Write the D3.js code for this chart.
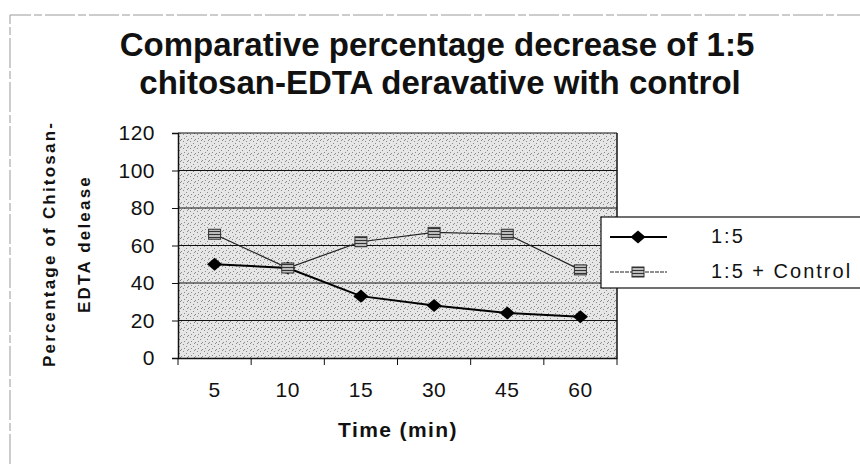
<!DOCTYPE html>
<html>
<head>
<meta charset="utf-8">
<script src="https://cdn.jsdelivr.net/npm/d3@7"></script>
<style>
  body { margin: 0; background: #fff; }
  svg { display: block; font-family: Arial, "Liberation Sans", sans-serif; }
</style>
</head>
<body>
<div class="chart"></div>
<script>
// data
var times = ["5", "10", "15", "30", "45", "60"];
var ratioValues = [50, 48, 33, 28, 24, 22];
var controlValues = [66, 48, 62, 67, 66, 47];
var seriesNames = ["1:5", "1:5 + Control"];
var yTicks = [0, 20, 40, 60, 80, 100, 120];

var W = 860, H = 464;
var plot = {left: 178, right: 617, top: 133, bottom: 358};
var font = "Arial, 'Liberation Sans', sans-serif";

var svg = d3.select(".chart").append("svg")
  .attr("width", W)
  .attr("height", H);

// stipple texture for the plot area
var defs = svg.append("defs");
var pat = defs.append("pattern")
  .attr("id", "stipple")
  .attr("width", 7).attr("height", 7)
  .attr("patternUnits", "userSpaceOnUse");
pat.append("rect").attr("width", 7).attr("height", 7).attr("fill", "#e6e6e6");
[[1, 1], [4, 3], [2, 5], [6, 6], [5, 0]].forEach(function(p) {
  pat.append("rect").attr("x", p[0]).attr("y", p[1])
    .attr("width", 1).attr("height", 1).attr("fill", "#8a8a8a");
});

var mpat = defs.append("pattern")
  .attr("id", "markfill")
  .attr("width", 3).attr("height", 3)
  .attr("patternUnits", "userSpaceOnUse");
mpat.append("rect").attr("width", 3).attr("height", 3).attr("fill", "#bbb");
mpat.append("rect").attr("width", 3).attr("height", 1).attr("fill", "#333");

// outer frame (scanned page edge)
svg.append("path")
  .attr("d", "M10," + H + "V15H" + W)
  .attr("fill", "none")
  .attr("stroke", "#999")
  .attr("stroke-width", 1)
  .attr("stroke-dasharray", "30,3,8,3");

// scales
var x = d3.scaleBand().domain(times).range([plot.left, plot.right]);
var y = d3.scaleLinear().domain([0, 120]).range([plot.bottom, plot.top]);
var cx = function(d) { return x(d) + x.bandwidth() / 2; };

// plot background
svg.append("rect")
  .attr("x", plot.left).attr("y", plot.top)
  .attr("width", plot.right - plot.left)
  .attr("height", plot.bottom - plot.top)
  .attr("fill", "url(#stipple)");

// gridlines
svg.append("g")
  .selectAll("line")
  .data(yTicks.filter(function(t) { return t > 0; }))
  .enter().append("line")
  .attr("x1", plot.left).attr("x2", plot.right)
  .attr("y1", function(d) { return y(d); })
  .attr("y2", function(d) { return y(d); })
  .attr("stroke", "#111")
  .attr("stroke-width", 1.2);

// right border
svg.append("line")
  .attr("x1", plot.right).attr("x2", plot.right)
  .attr("y1", plot.top).attr("y2", plot.bottom)
  .attr("stroke", "#111").attr("stroke-width", 1.5);

// y axis
var yAxis = svg.append("g")
  .attr("transform", "translate(" + plot.left + ",0)")
  .call(d3.axisLeft(y).tickValues(yTicks).tickSize(6).tickPadding(17));
yAxis.select(".domain").attr("stroke", "#111").attr("stroke-width", 1.5);
yAxis.selectAll(".tick line").attr("stroke", "#111");
yAxis.selectAll("text").attr("font-size", 21).attr("fill", "#111")
  .attr("letter-spacing", 0.5).attr("font-family", font);

// x axis with ticks at category boundaries
var xAxis = svg.append("g")
  .attr("transform", "translate(0," + plot.bottom + ")")
  .call(d3.axisBottom(x).tickSize(0).tickPadding(24));
xAxis.select(".domain").attr("stroke", "#111").attr("stroke-width", 1.5);
xAxis.selectAll("text").attr("font-size", 21).attr("fill", "#111")
  .attr("letter-spacing", 0.5).attr("font-family", font);
xAxis.selectAll(".bound")
  .data(times.concat(["end"]))
  .enter().append("line")
  .attr("class", "bound")
  .attr("x1", function(d, i) { return plot.left + i * x.step(); })
  .attr("x2", function(d, i) { return plot.left + i * x.step(); })
  .attr("y1", 0).attr("y2", 7)
  .attr("stroke", "#111");

// lines
var line = d3.line()
  .x(function(d, i) { return cx(times[i]); })
  .y(function(d) { return y(d); });

svg.append("path")
  .datum(controlValues)
  .attr("d", line)
  .attr("fill", "none")
  .attr("stroke", "#222")
  .attr("stroke-width", 1.2);

svg.append("path")
  .datum(ratioValues)
  .attr("d", line)
  .attr("fill", "none")
  .attr("stroke", "#000")
  .attr("stroke-width", 2);

// markers
var diamond = d3.symbol().type(d3.symbolDiamond2).size(110);
svg.selectAll(".dia")
  .data(ratioValues)
  .enter().append("path")
  .attr("class", "dia")
  .attr("d", diamond)
  .attr("transform", function(d, i) {
    return "translate(" + cx(times[i]) + "," + y(d) + ") scale(1.15,1)";
  })
  .attr("fill", "#000");

svg.selectAll(".sq")
  .data(controlValues)
  .enter().append("rect")
  .attr("class", "sq")
  .attr("x", function(d, i) { return cx(times[i]) - 6; })
  .attr("y", function(d) { return y(d) - 5; })
  .attr("width", 12).attr("height", 10)
  .attr("fill", "url(#markfill)")
  .attr("stroke", "#333");

// legend
var leg = svg.append("g");
leg.append("rect")
  .attr("x", 601).attr("y", 217)
  .attr("width", 270).attr("height", 71)
  .attr("fill", "#fff")
  .attr("stroke", "#111").attr("stroke-width", 1.2);

leg.append("line")
  .attr("x1", 610).attr("x2", 667).attr("y1", 237).attr("y2", 237)
  .attr("stroke", "#000").attr("stroke-width", 2);
leg.append("path")
  .attr("d", diamond)
  .attr("transform", "translate(638,237) scale(1.15,1)")
  .attr("fill", "#000");
leg.append("line")
  .attr("x1", 610).attr("x2", 667).attr("y1", 272).attr("y2", 272)
  .attr("stroke", "#222").attr("stroke-width", 1.2)
  .attr("stroke-dasharray", "4,1");
leg.append("rect")
  .attr("x", 632).attr("y", 267).attr("width", 12).attr("height", 10)
  .attr("fill", "url(#markfill)").attr("stroke", "#333");

leg.selectAll(".lt")
  .data(seriesNames)
  .enter().append("text")
  .attr("class", "lt")
  .attr("x", 711)
  .attr("y", function(d, i) { return 243 + i * 35; })
  .attr("font-size", 20)
  .attr("letter-spacing", 2)
  .attr("fill", "#111")
  .text(function(d) { return d; });

// title
var title = svg.append("text")
  .attr("text-anchor", "middle")
  .attr("font-weight", "bold")
  .attr("font-size", 33)
  .attr("fill", "#111");
title.append("tspan").attr("x", 437).attr("y", 56)
  .text("Comparative percentage decrease of 1:5");
title.append("tspan").attr("x", 440).attr("y", 94)
  .text("chitosan-EDTA deravative with control");

// axis titles
svg.append("text")
  .attr("x", 398).attr("y", 437)
  .attr("text-anchor", "middle")
  .attr("font-weight", "bold")
  .attr("font-size", 21)
  .attr("letter-spacing", 1.4)
  .attr("fill", "#111")
  .text("Time (min)");

var ylab = svg.append("text")
  .attr("transform", "translate(0,244) rotate(-90)")
  .attr("text-anchor", "middle")
  .attr("font-weight", "bold")
  .attr("font-size", 17)
  .attr("letter-spacing", 2.2)
  .attr("fill", "#111");
ylab.append("tspan").attr("x", 0).attr("y", 55).text("Percentage of Chitosan-");
ylab.append("tspan").attr("x", 0).attr("y", 90).text("EDTA delease");
</script>
</body>
</html>
